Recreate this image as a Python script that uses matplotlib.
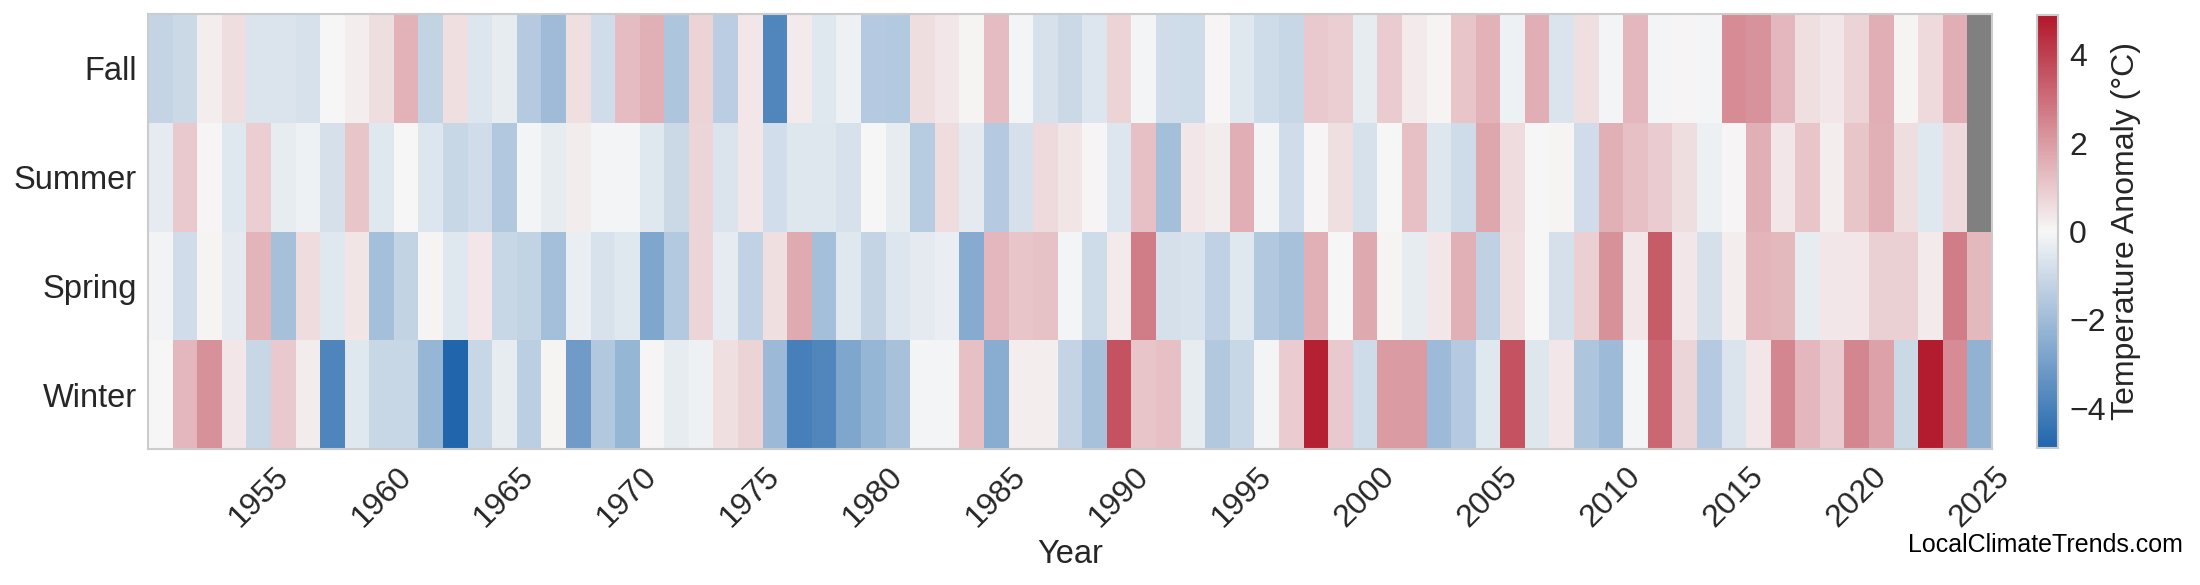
import numpy as np
import matplotlib
matplotlib.use('Agg')
import matplotlib.pyplot as plt
from matplotlib.colors import LinearSegmentedColormap

nan = np.nan

years = list(range(1951, 2026))
seasons = ["Winter", "Spring", "Summer", "Fall"]  # bottom to top

fall = [-1.15, -1.0, 0.2, 0.55, -0.65, -0.65, -0.75, 0.0, 0.2, 0.55,
        1.5, -1.2, 0.5, -0.6, -0.35, -1.5, -2.0, 0.5, -0.9, 1.3,
        1.55, -1.65, 0.8, -1.4, 0.35, -3.8, 0.3, -0.5, -0.2, -1.5,
        -1.55, 0.55, 0.35, 0.1, 1.3, -0.1, -0.75, -1.0, -0.6, 0.8,
        -0.1, -0.9, -0.95, 0.05, -0.5, -0.95, -1.1, 1.0, 0.9, -0.35,
        0.95, 0.3, 0.1, 1.1, 1.5, -0.2, 1.6, -0.65, 0.5, -0.1,
        1.4, -0.1, 0.05, -0.1, 2.35, 2.2, 1.4, 0.5, 0.35, 0.8,
        1.6, 0.1, 0.65, 1.6, nan]

summer = [-0.4, 1.0, 0.05, -0.5, 0.9, -0.35, -0.2, -0.8, 1.1, -0.5,
          0.0, -0.6, -1.1, -0.9, -1.6, -0.1, -0.35, 0.25, -0.1, -0.1,
          -0.5, -1.0, 0.75, -0.65, 0.35, -0.85, -0.55, -0.55, -0.75, 0.0,
          -0.35, -1.45, 0.6, -0.45, -1.5, -0.8, 0.65, 0.4, 0.05, -0.6,
          1.2, -1.9, 0.35, 0.25, 1.6, -0.1, -0.9, 0.05, 0.5, -0.75,
          0.0, 1.2, -0.55, -0.95, 1.75, 0.6, 0.0, 0.1, -0.9, 1.55,
          1.2, 0.95, 0.55, -0.25, 0.05, 1.55, 0.35, 1.1, 0.2, 1.1,
          1.55, 0.55, -0.5, 0.65, nan]

spring = [-0.15, -0.9, 0.1, -0.45, 1.45, -1.85, 0.6, -0.5, 0.4, -1.9,
          -1.2, 0.1, -0.5, 0.35, -1.1, -1.2, -1.9, -0.3, -0.7, -0.5,
          -2.75, -1.55, 0.75, -0.4, -1.25, 0.5, 1.65, -1.9, -0.5, -1.15,
          -0.6, -0.45, -0.3, -2.55, 1.4, 1.1, 1.15, -0.1, -0.95, 0.3,
          2.65, -0.8, -0.7, -1.3, -0.5, -1.6, -1.8, 1.55, 0.0, 1.7,
          0.1, -0.35, 0.35, 1.55, -1.3, 0.5, 0.0, -0.8, 0.85, 2.25,
          0.35, 3.4, 0.35, -0.8, 0.2, 1.45, 1.35, -0.35, 0.35, 0.35,
          0.85, 0.85, 0.3, 2.65, 1.35]

winter = [0.0, 1.4, 2.25, 0.35, -1.1, 1.0, 0.25, -3.85, -0.5, -1.1,
          -1.1, -2.2, -4.9, -1.1, -0.35, -1.35, 0.1, -3.1, -1.6, -2.2,
          0.05, -0.35, -0.2, 0.5, 0.8, -2.1, -4.05, -3.8, -2.75, -2.2,
          -1.8, -0.1, -0.1, 1.2, -2.5, 0.2, 0.2, -1.15, -1.8, 3.6,
          1.1, 1.2, -0.35, -1.6, -1.1, -0.1, 0.95, 4.7, 1.0, -0.95,
          2.0, 2.0, -2.05, -1.5, -0.5, 3.6, -0.55, 0.35, -1.65, -2.05,
          -0.1, 3.15, 0.75, -1.5, -0.65, 0.35, 2.45, 1.4, 0.95, 2.45,
          1.85, -1.0, 4.8, 2.35, -2.3]

tick_years = list(range(1955, 2026, 5))

plt.rcParams['font.family'] = ['Liberation Sans', 'DejaVu Sans']
plt.rcParams['text.color'] = '#262626'
plt.rcParams['xtick.color'] = '#262626'
plt.rcParams['ytick.color'] = '#262626'
plt.rcParams['axes.labelcolor'] = '#262626'

data = np.ma.masked_invalid(np.array([winter, spring, summer, fall]))
vlim = 4.9

cmap = LinearSegmentedColormap.from_list("anom", ["#2166ac", "#f7f7f7", "#b2182b"])
cmap.set_bad("#808080")

fig = plt.figure(figsize=(22, 5.85), dpi=100)
ax = fig.add_axes([148 / 2200, 136 / 585, 1844 / 2200, 435 / 585])

x_edges = np.arange(years[0] - 0.5, years[-1] + 1.0, 1.0)
y_edges = np.arange(len(seasons) + 1)
mesh = ax.pcolormesh(x_edges, y_edges, data, cmap=cmap, vmin=-vlim, vmax=vlim)

ax.set_xlim(x_edges[0], x_edges[-1])
ax.set_ylim(0, len(seasons))
ax.set_xticks(tick_years)
ax.set_xticklabels([str(y) for y in tick_years], rotation=45, fontsize=23)
ax.set_yticks(np.arange(len(seasons)) + 0.5)
ax.set_yticklabels(seasons, fontsize=23.5)
ax.tick_params(axis='both', length=0)
ax.tick_params(axis='x', pad=9)
ax.tick_params(axis='y', pad=8)
ax.set_xlabel("Year", fontsize=23.5, labelpad=4)
for sp in ax.spines.values():
    sp.set_color('#cccccc')
    sp.set_linewidth(1.5)

cax = fig.add_axes([2037 / 2200, 137 / 585, 21 / 2200, 433 / 585])
cb = fig.colorbar(mesh, cax=cax)
cb.set_ticks([-4, -2, 0, 2, 4])
cb.ax.tick_params(labelsize=23, length=0, pad=8)
cb.set_label("Temperature Anomaly (°C)", fontsize=23, labelpad=4)
cb.outline.set_edgecolor('#cccccc')
cb.outline.set_linewidth(1.5)

fig.text(2183 / 2200, 1 - 545 / 585, "LocalClimateTrends.com", ha='right', va='center',
         fontsize=18, color='black')

fig.savefig("out.png", dpi=100)
